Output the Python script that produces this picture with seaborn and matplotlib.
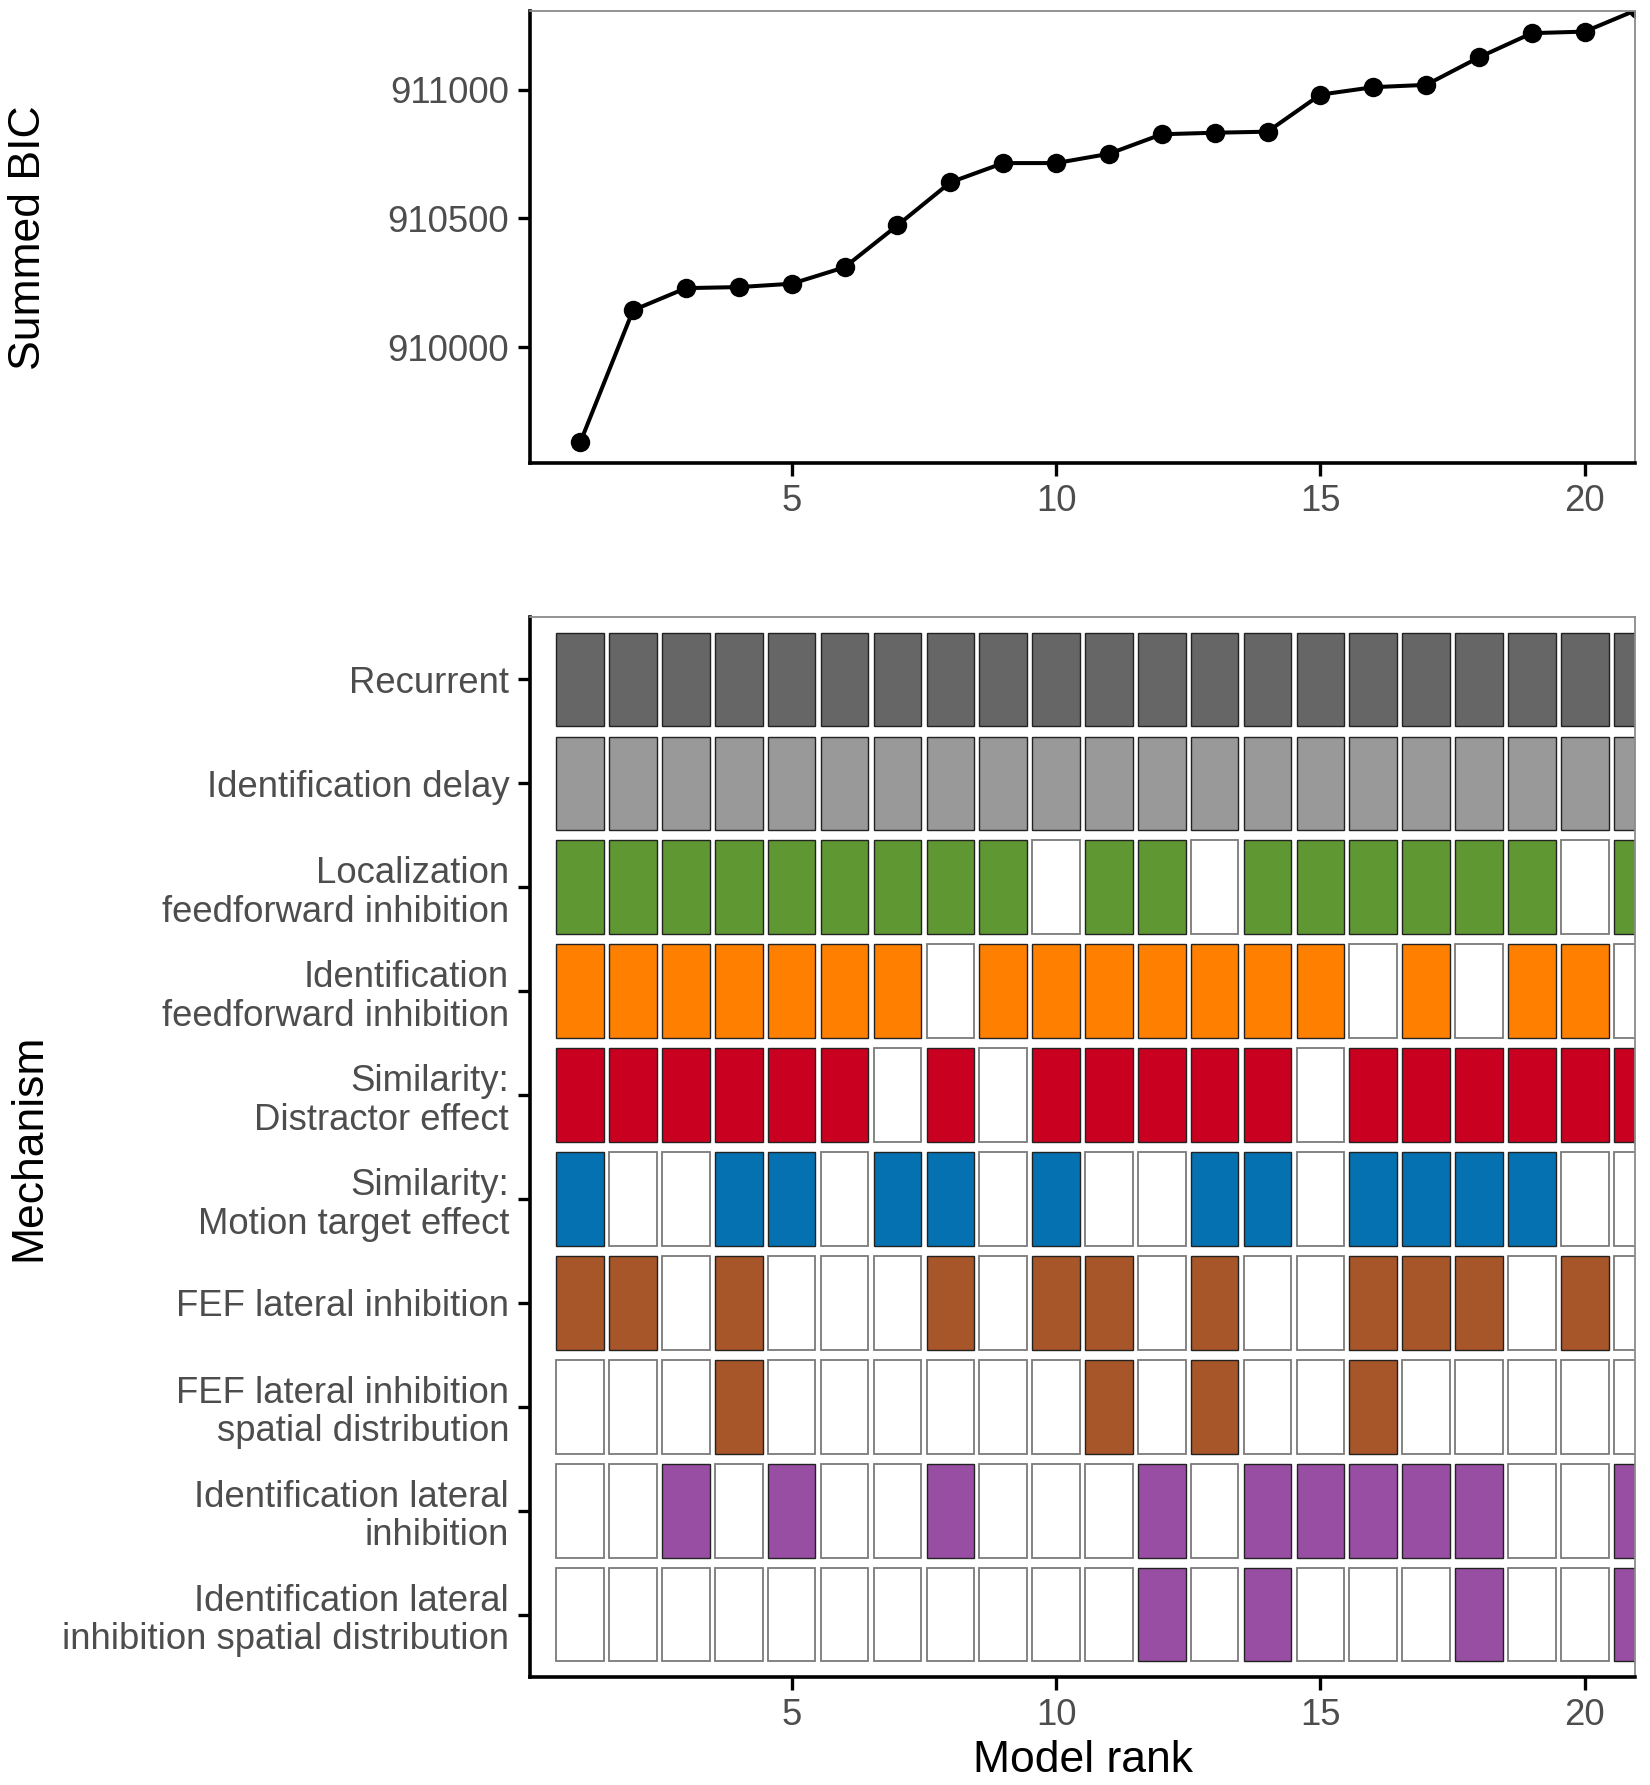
import numpy as np
import pandas as pd
import matplotlib
matplotlib.use("Agg")
import matplotlib.pyplot as plt
import seaborn as sns

# --- data ---
model_rank = list(range(1, 22))
summed_bic = [909629, 910143, 910229, 910233, 910246, 910310, 910473, 910640,
              910715, 910715, 910751, 910827, 910833, 910837, 910981, 911010,
              911019, 911126, 911220, 911226, 911312]

mechanisms = ["Recurrent",
              "Identification delay",
              "Localization\nfeedforward inhibition",
              "Identification\nfeedforward inhibition",
              "Similarity:\nDistractor effect",
              "Similarity:\nMotion target effect",
              "FEF lateral inhibition",
              "FEF lateral inhibition\nspatial distribution",
              "Identification lateral\ninhibition",
              "Identification lateral\ninhibition spatial distribution"]

mech_colors = ["#666666", "#999999", "#5F9733", "#FF7F00", "#CA0020",
               "#0571B0", "#A65628", "#A65628", "#984EA3", "#984EA3"]

recurrent      = [1, 1, 1, 1, 1, 1, 1, 1, 1, 1, 1, 1, 1, 1, 1, 1, 1, 1, 1, 1, 1]
ident_delay    = [1, 1, 1, 1, 1, 1, 1, 1, 1, 1, 1, 1, 1, 1, 1, 1, 1, 1, 1, 1, 1]
loc_ff         = [1, 1, 1, 1, 1, 1, 1, 1, 1, 0, 1, 1, 0, 1, 1, 1, 1, 1, 1, 0, 1]
ident_ff       = [1, 1, 1, 1, 1, 1, 1, 0, 1, 1, 1, 1, 1, 1, 1, 0, 1, 0, 1, 1, 0]
sim_distractor = [1, 1, 1, 1, 1, 1, 0, 1, 0, 1, 1, 1, 1, 1, 0, 1, 1, 1, 1, 1, 1]
sim_motion     = [1, 0, 0, 1, 1, 0, 1, 1, 0, 1, 0, 0, 1, 1, 0, 1, 1, 1, 1, 0, 0]
fef_lat        = [1, 1, 0, 1, 0, 0, 0, 1, 0, 1, 1, 0, 1, 0, 0, 1, 1, 1, 0, 1, 0]
fef_spatial    = [0, 0, 0, 1, 0, 0, 0, 0, 0, 0, 1, 0, 1, 0, 0, 1, 0, 0, 0, 0, 0]
ident_lat      = [0, 0, 1, 0, 1, 0, 0, 1, 0, 0, 0, 1, 0, 1, 1, 1, 1, 1, 0, 0, 1]
ident_lat_sp   = [0, 0, 0, 0, 0, 0, 0, 0, 0, 0, 0, 1, 0, 1, 0, 0, 0, 1, 0, 0, 1]

included = [recurrent, ident_delay, loc_ff, ident_ff, sim_distractor,
            sim_motion, fef_lat, fef_spatial, ident_lat, ident_lat_sp]

bic_df = pd.DataFrame({"rank": model_rank, "bic": summed_bic})
rows = []
for i, (name, flags) in enumerate(zip(mechanisms, included)):
    for r, f in zip(model_rank, flags):
        rows.append({"rank": r, "mechanism": name, "row": len(mechanisms) - i,
                     "included": f, "color": mech_colors[i]})
tile_df = pd.DataFrame(rows)

# --- style ---
sns.set_theme(style="ticks")
plt.rcParams["font.family"] = ["Liberation Sans", "DejaVu Sans"]

TICK_SIZE = 26.3
TITLE_SIZE = 32
TICK_COLOR = "#4D4D4D"


def style_axes(ax):
    for side in ["left", "bottom"]:
        ax.spines[side].set_color("black")
        ax.spines[side].set_linewidth(2.6)
    for side in ["top", "right"]:
        ax.spines[side].set_visible(True)
        ax.spines[side].set_color("#8a8a8a")
        ax.spines[side].set_linewidth(1.3)
    ax.tick_params(axis="both", length=9, width=2.4, color="black",
                   labelsize=TICK_SIZE, labelcolor=TICK_COLOR, pad=6)
    ax.set_xticks([5, 10, 15, 20])
    ax.set_xlim(1 - 0.05 * 19, 20 + 0.05 * 19)


fig = plt.figure(figsize=(16.5, 17.85), dpi=100)
ax1 = fig.add_axes([0.3212, 0.7406, 0.6697, 0.2532])
ax2 = fig.add_axes([0.3212, 0.0605, 0.6697, 0.5938])

# top: summed BIC by model rank
sns.lineplot(data=bic_df, x="rank", y="bic", ax=ax1, color="black",
             linewidth=2.9, marker="o", markersize=14, markeredgewidth=0)
shown = bic_df["bic"][:20]
pad = 0.05 * (shown.max() - shown.min())
ax1.set_ylim(shown.min() - pad, shown.max() + pad)
ax1.set_yticks([910000, 910500, 911000])
ax1.set_yticklabels(["910000", "910500", "911000"])
ax1.set_xlabel("")
ax1.set_ylabel("")
style_axes(ax1)

# bottom: mechanisms included in each model
for _, t in tile_df.iterrows():
    if t["included"]:
        ax2.bar(t["rank"], 0.9, bottom=t["row"] - 0.45, width=0.9,
                color=t["color"], edgecolor="#222222", linewidth=1.0)
    else:
        ax2.bar(t["rank"], 0.9, bottom=t["row"] - 0.45, width=0.9,
                color="white", edgecolor="#7a7a7a", linewidth=1.3)
ax2.set_ylim(0.4, len(mechanisms) + 0.6)
ax2.set_yticks(range(len(mechanisms), 0, -1))
ax2.set_yticklabels(mechanisms, linespacing=1.13)
style_axes(ax2)

fig.text(0.0175, 0.867, "Summed BIC", rotation=90, ha="center", va="center",
         fontsize=TITLE_SIZE, color="black")
fig.text(0.0175, 0.3575, "Mechanism", rotation=90, ha="center", va="center",
         fontsize=TITLE_SIZE, color="black")
fig.text(0.6561, 0.014, "Model rank", ha="center", va="center",
         fontsize=TITLE_SIZE, color="black")

fig.savefig("out.png", dpi=100)
